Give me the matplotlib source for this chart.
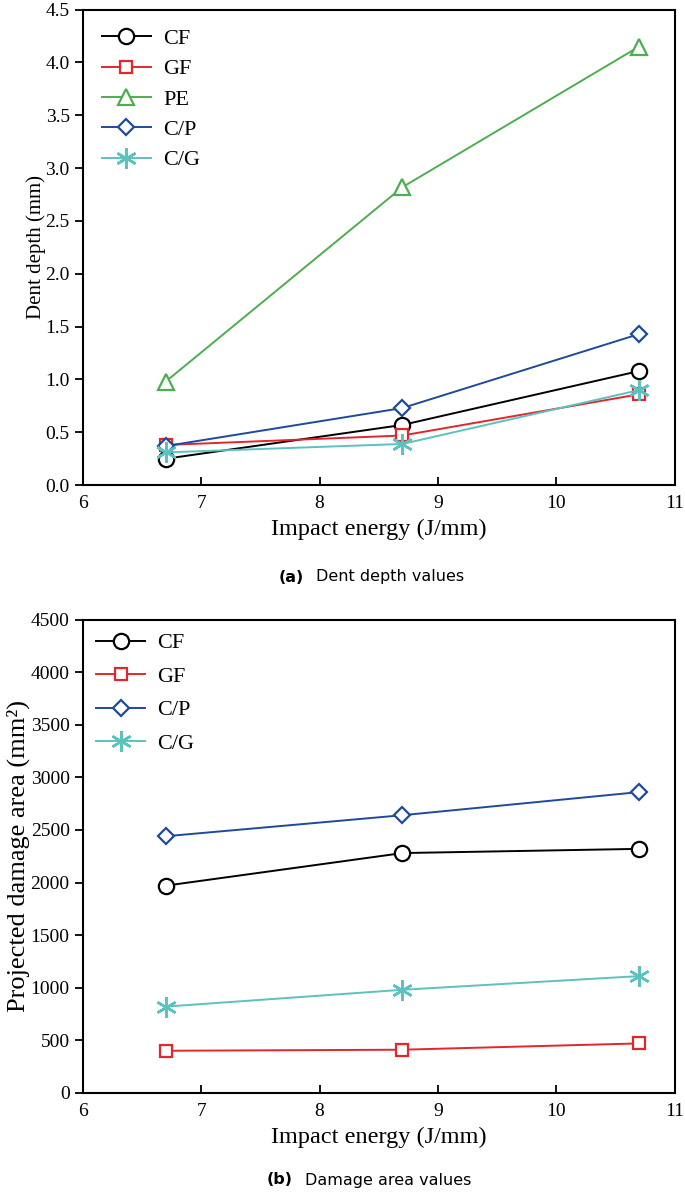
import numpy as np
import matplotlib.pyplot as plt

# impact energy (J/mm)
energy = [6.7, 8.7, 10.7]

# dent depth (mm)
dent_cf = [0.25, 0.57, 1.08]
dent_gf = [0.38, 0.47, 0.86]
dent_pe = [0.98, 2.82, 4.15]
dent_cp = [0.37, 0.73, 1.43]
dent_cg = [0.31, 0.39, 0.90]

# projected damage area (mm^2)
area_cf = [1970, 2280, 2320]
area_gf = [400, 410, 470]
area_cp = [2440, 2640, 2860]
area_cg = [820, 980, 1110]

plt.rcParams['font.family'] = ['Liberation Serif', 'DejaVu Serif']

sty = {
    'CF': dict(color='black', marker='o'),
    'GF': dict(color='#e3262c', marker='s'),
    'PE': dict(color='#4cae4f', marker='^'),
    'C/P': dict(color='#1f4a9c', marker='D'),
    'C/G': dict(color='#5cc2bd', marker='*'),
}

def draw(ax, name, y):
    s = sty[name]
    ms = {'o': 11, '^': 12, 's': 9, 'D': 8.5}
    if s['marker'] == '*':
        ax.plot(energy, y, color=s['color'], lw=1.4, marker=(6, 2, 0), ms=15,
                mew=1.8, label=name)
    else:
        ax.plot(energy, y, color=s['color'], lw=1.4, marker=s['marker'],
                ms=ms[s['marker']], mfc='white', mec=s['color'], mew=1.6, label=name)

def style(ax, spacing, pad):
    ax.set_xlim(6, 11)
    ax.set_xticks([6, 7, 8, 9, 10, 11])
    ax.tick_params(axis='x', direction='in', length=6, width=1.3, labelsize=14, pad=7)
    ax.tick_params(axis='y', direction='out', length=6, width=1.3, labelsize=14)
    for sp in ax.spines.values():
        sp.set_linewidth(1.5)
    ax.set_xlabel('Impact energy (J/mm)', fontsize=17.5, labelpad=5)
    ax.legend(loc='upper left', frameon=False, fontsize=16, handlelength=2.2,
              handletextpad=0.55, labelspacing=spacing, borderaxespad=pad)

fig = plt.figure(figsize=(6.85, 11.95), dpi=100)

ax1 = fig.add_axes([0.121, 0.594, 0.864, 0.398])
for name, y in [('CF', dent_cf), ('GF', dent_gf), ('PE', dent_pe), ('C/P', dent_cp), ('C/G', dent_cg)]:
    draw(ax1, name, y)
ax1.set_ylim(0, 4.5)
ax1.set_yticks(np.arange(0, 4.51, 0.5))
ax1.yaxis.set_major_formatter(plt.FormatStrFormatter('%.1f'))
ax1.set_ylabel('Dent depth (mm)', fontsize=15)
ax1.yaxis.set_label_coords(-0.062, 0.5)
style(ax1, 0.44, 0.45)

ax2 = fig.add_axes([0.121, 0.0855, 0.864, 0.396])
for name, y in [('CF', area_cf), ('GF', area_gf), ('C/P', area_cp), ('C/G', area_cg)]:
    draw(ax2, name, y)
ax2.set_ylim(0, 4500)
ax2.set_yticks(np.arange(0, 4501, 500))
ax2.set_ylabel('Projected damage area (mm²)', fontsize=19)
ax2.yaxis.set_label_coords(-0.089, 0.5)
style(ax2, 0.58, 0.2)

W, H = 685.0, 1195.0
fig.text(279 / W, 1 - 577 / H, '(a)', ha='left', va='center', fontsize=11.5,
         fontweight='bold', family='DejaVu Sans')
fig.text(316 / W, 1 - 577 / H, 'Dent depth values', ha='left', va='center',
         fontsize=11.5, family='DejaVu Sans')
fig.text(267 / W, 1 - 1180 / H, '(b)', ha='left', va='center', fontsize=11.5,
         fontweight='bold', family='DejaVu Sans')
fig.text(305 / W, 1 - 1180 / H, 'Damage area values', ha='left', va='center',
         fontsize=11.5, family='DejaVu Sans')

fig.savefig('out.png', dpi=100)
